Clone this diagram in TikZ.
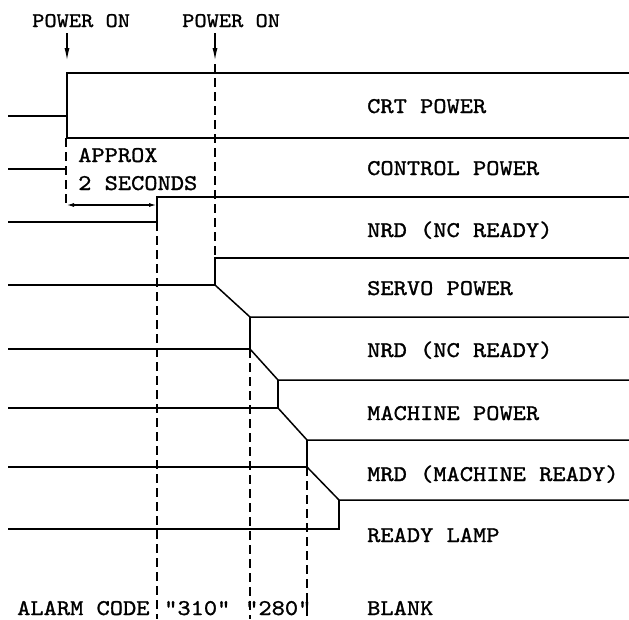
\documentclass[tikz,border=0pt]{standalone}
\usepackage{fontspec}
\newfontfamily\twfont{lmmono10-regular}[Extension=.otf, FakeStretch=1.12, FakeBold=1.2]
\usetikzlibrary{arrows.meta}
\begin{document}
\begin{tikzpicture}[x=1pt,y=-1pt,
  sig/.style={line width=1.5pt, line join=miter},
  guide/.style={line width=1.3pt, dash pattern=on 9pt off 5pt},
  lbl/.style={font=\twfont\fontsize{22.5}{24}\selectfont, anchor=base west, inner sep=0pt},
  toplbl/.style={lbl, font=\twfont\fontsize{20.8}{24}\selectfont},
  tip/.style={-{Latex[length=13pt,width=5pt]}},
]
\useasboundingbox (0,0) rectangle (629,619);

% ---- top labels and power-on arrows
\node[toplbl] (pon1) at (32,27) {POWER ON};
\node[toplbl] (pon2) at (182,27) {POWER ON};
\draw[sig, tip] (67,33) -- (67,61);
\draw[sig, tip] (215,33) -- (215,61);

% ---- dashed timing guides
\draw[guide] (66,138) -- (66,205);
\draw[guide] (215,64) -- (215,258);
\draw[guide] (157,222) -- (157,619);
\draw[guide] (250,349) -- (250,619);
\draw[guide] (307,467) -- (307,619);

% ---- CRT POWER / CONTROL POWER
\draw[sig] (8,116) -- (67,116) -- (67,73) -- (629,73);
\draw[sig] (67,116) -- (67,138) -- (629,138);
\draw[sig] (8,169) -- (66,169);

% ---- approx 2 seconds
\draw[sig, {Latex[length=8pt,width=4pt]}-{Latex[length=8pt,width=4pt]}] (66,205) -- (157,205);
\node[lbl] (approx) at (78,162) {APPROX};
\node[lbl] (secs) at (78,190) {2 SECONDS};

% ---- NRD (NC READY)
\draw[sig] (8,222) -- (157,222) -- (157,197) -- (629,197);

% ---- SERVO POWER
\draw[sig] (8,285) -- (215,285) -- (215,258) -- (629,258);
\draw[sig] (215,285) -- (250,317) -- (629,317);

% ---- NRD (NC READY) second
\draw[sig] (8,349) -- (250,349) -- (250,317);
\draw[sig] (250,349) -- (278,380) -- (629,380);

% ---- MACHINE POWER
\draw[sig] (8,408) -- (278,408) -- (278,380);
\draw[sig] (278,408) -- (307,440) -- (629,440);

% ---- MRD (MACHINE READY)
\draw[sig] (8,467) -- (307,467) -- (307,440);
\draw[sig] (307,467) -- (339,500) -- (629,500);

% ---- READY LAMP
\draw[sig] (8,529) -- (339,529) -- (339,500);

% ---- right-hand labels
\node[lbl] (crt) at (367,113) {CRT POWER};
\node[lbl] (ctl) at (367,175) {CONTROL POWER};
\node[lbl] (nrd1) at (367,237) {NRD (NC READY)};
\node[lbl] (servo) at (367,295) {SERVO POWER};
\node[lbl] (nrd2) at (367,357) {NRD (NC READY)};
\node[lbl] (mach) at (367,420) {MACHINE POWER};
\node[lbl] (mrd) at (367,481) {MRD (MACHINE READY)};
\node[lbl] (lamp) at (367,542) {READY LAMP};

% ---- alarm code row
\node[lbl] (alarm) at (17,615) {ALARM CODE};
\node[lbl] (c310) at (164,615) {"310"};
\node[lbl] (c280) at (245,615) {"280"};
\node[lbl] (blank) at (367,615) {BLANK};
\end{tikzpicture}
\end{document}
